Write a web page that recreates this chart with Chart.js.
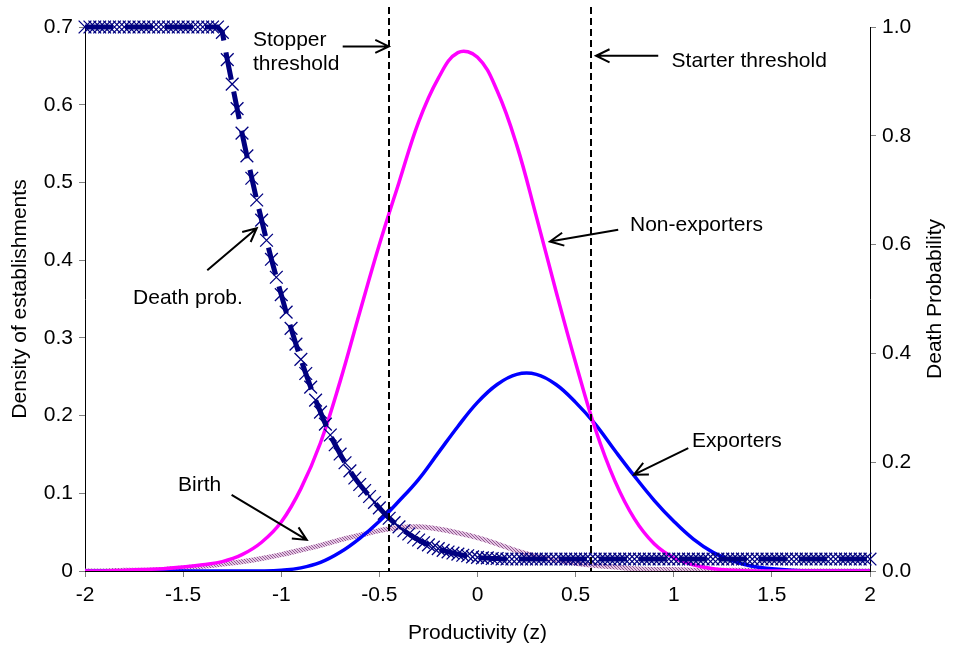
<!DOCTYPE html>
<html>
<head>
<meta charset="utf-8">
<title>Productivity</title>
<script src="https://cdn.jsdelivr.net/npm/chart.js@4.4.1/dist/chart.umd.min.js"></script>
<style>
  html, body { margin: 0; padding: 0; background: #fff; }
</style>
</head>
<body>
<canvas id="graficoDensidade" width="953" height="654"></canvas>
<script>
// Grade de produtividade (z) das densidades
const produtividade = [
    -2.0, -1.9, -1.8, -1.7, -1.6, -1.5, -1.4, -1.3, -1.2, -1.1,
    -1.0, -0.9, -0.8, -0.7, -0.6, -0.5, -0.4, -0.3, -0.2, -0.1,
    0.0, 0.1, 0.2, 0.3, 0.4, 0.5, 0.6, 0.7, 0.8, 0.9,
    1.0, 1.1, 1.2, 1.3, 1.4, 1.5, 1.6, 1.7, 1.8, 1.9, 2.0
];

const naoExportadores = [
    0.000, 0.000, 0.001, 0.002, 0.003, 0.005, 0.008, 0.012, 0.021, 0.037,
    0.063, 0.106, 0.165, 0.244, 0.333, 0.420, 0.500, 0.578, 0.634, 0.667,
    0.661, 0.618, 0.548, 0.456, 0.360, 0.268, 0.183, 0.116, 0.067, 0.035,
    0.017, 0.008, 0.003, 0.001, 0.000, 0.000, 0.000, 0.000, 0.000, 0.000, 0.000
];

const exportadores = [
    0.000, 0.000, 0.000, 0.000, 0.000, 0.000, 0.000, 0.000, 0.000, 0.000,
    0.001, 0.004, 0.011, 0.024, 0.042, 0.064, 0.090, 0.118, 0.152, 0.186,
    0.217, 0.240, 0.253, 0.253, 0.240, 0.217, 0.189, 0.155, 0.122, 0.091,
    0.064, 0.041, 0.024, 0.013, 0.006, 0.003, 0.001, 0.000, 0.000, 0.000, 0.000
];

const nascimento = [
    0.000, 0.000, 0.001, 0.001, 0.002, 0.004, 0.006, 0.009, 0.012, 0.016,
    0.021, 0.027, 0.033, 0.040, 0.046, 0.052, 0.056, 0.057, 0.054, 0.049,
    0.043, 0.035, 0.026, 0.019, 0.014, 0.010, 0.007, 0.005, 0.003, 0.002,
    0.002, 0.001, 0.001, 0.001, 0.001, 0.000, 0.000, 0.000, 0.000, 0.000, 0.000
];

// Probabilidade de morte (eixo direito), de -2 a 2 com passo 0.025
const inicioMorte = -2;
const passoMorte = 0.025;
const probMorte = [
    1.000, 1.000, 1.000, 1.000, 1.000, 1.000, 1.000, 1.000, 1.000, 1.000, 1.000, 1.000, 1.000, 1.000,
    1.000, 1.000, 1.000, 1.000, 1.000, 1.000, 1.000, 1.000, 1.000, 1.000, 1.000, 1.000, 1.000, 1.000,
    0.990, 0.940, 0.895, 0.850, 0.805, 0.763, 0.722, 0.682, 0.645, 0.608,
    0.573, 0.540, 0.508, 0.476, 0.446, 0.417, 0.389, 0.363, 0.338, 0.314,
    0.292, 0.270, 0.250, 0.232, 0.215, 0.199, 0.184, 0.171, 0.159, 0.148,
    0.137, 0.126, 0.116, 0.106, 0.097, 0.089, 0.081, 0.074, 0.068, 0.062,
    0.057, 0.052, 0.048, 0.044, 0.041, 0.038, 0.035, 0.033, 0.031, 0.029,
    0.028, 0.026, 0.025, 0.024, 0.024, 0.023, 0.023, 0.022,
    0.022, 0.022, 0.022, 0.022, 0.022, 0.022, 0.022, 0.022, 0.022, 0.022, 0.022, 0.022, 0.022, 0.022, 0.022,
    0.022, 0.022, 0.022, 0.022, 0.022, 0.022, 0.022, 0.022, 0.022, 0.022, 0.022, 0.022, 0.022, 0.022, 0.022,
    0.022, 0.022, 0.022, 0.022, 0.022, 0.022, 0.022, 0.022, 0.022, 0.022, 0.022, 0.022, 0.022, 0.022, 0.022,
    0.022, 0.022, 0.022, 0.022, 0.022, 0.022, 0.022, 0.022, 0.022, 0.022, 0.022, 0.022, 0.022, 0.022, 0.022,
    0.022, 0.022, 0.022, 0.022, 0.022, 0.022, 0.022, 0.022, 0.022, 0.022, 0.022, 0.022, 0.022, 0.022, 0.022
];

// Limiares (stopper e starter)
const limiares = [-0.45, 0.58];

// Textos com setas, em coordenadas dos dados (z, densidade)
const anotacoes = [
    { linhas: ["Stopper", "threshold"], z: -1.144, d: 0.683, seta: [-0.687, 0.675, -0.452, 0.675] },
    { linhas: ["Starter threshold"], z: 0.989, d: 0.656, seta: [0.921, 0.663, 0.604, 0.663] },
    { linhas: ["Non-exporters"], z: 0.777, d: 0.445, seta: [0.717, 0.439, 0.369, 0.424] },
    { linhas: ["Exporters"], z: 1.093, d: 0.167, seta: [1.074, 0.158, 0.797, 0.124] },
    { linhas: ["Death prob."], z: -1.755, d: 0.351, seta: [-1.377, 0.387, -1.125, 0.441] },
    { linhas: ["Birth"], z: -1.526, d: 0.111, seta: [-1.253, 0.098, -0.870, 0.040] }
];

const fonte = { family: "'Liberation Sans', Arial, sans-serif", size: 21 };

document.addEventListener("DOMContentLoaded", function () {
    renderizarGrafico();
});

function pontos(xs, ys) {
    return ys.map((y, i) => ({ x: xs[i], y: y }));
}

function padraoNascimento(ctx) {
    // textura xadrez lilás da curva de nascimentos
    const c = document.createElement("canvas");
    c.width = 3;
    c.height = 3;
    const g = c.getContext("2d");
    g.fillStyle = "#e4c4e4";
    g.fillRect(0, 0, 3, 3);
    g.fillStyle = "#935c90";
    g.fillRect(0, 0, 1, 1);
    g.fillRect(1, 1, 1, 1);
    g.fillRect(2, 2, 1, 1);
    return ctx.createPattern(c, "repeat");
}

function desenharSeta(ctx, x1, y1, x2, y2) {
    const ang = Math.atan2(y2 - y1, x2 - x1);
    const tam = 15;
    ctx.beginPath();
    ctx.moveTo(x1, y1);
    ctx.lineTo(x2, y2);
    ctx.moveTo(x2 - tam * Math.cos(ang - 0.45), y2 - tam * Math.sin(ang - 0.45));
    ctx.lineTo(x2, y2);
    ctx.lineTo(x2 - tam * Math.cos(ang + 0.45), y2 - tam * Math.sin(ang + 0.45));
    ctx.stroke();
}

const pluginExtras = {
    id: "extras",
    afterDatasetsDraw(chart) {
        const { ctx, chartArea, scales } = chart;
        const sx = scales.x, sy = scales.y;
        ctx.save();

        // Linhas tracejadas dos limiares
        ctx.strokeStyle = "#000";
        ctx.lineWidth = 2;
        ctx.setLineDash([7, 4]);
        limiares.forEach(z => {
            const px = Math.round(sx.getPixelForValue(z));
            ctx.beginPath();
            ctx.moveTo(px, chartArea.top - 20);
            ctx.lineTo(px, chartArea.bottom);
            ctx.stroke();
        });
        ctx.setLineDash([]);

        // Rótulos e setas
        ctx.font = fonte.size + "px " + fonte.family;
        ctx.fillStyle = "#000";
        ctx.textAlign = "left";
        ctx.textBaseline = "middle";
        ctx.lineWidth = 2;
        anotacoes.forEach(a => {
            const tx = sx.getPixelForValue(a.z);
            const ty = sy.getPixelForValue(a.d);
            a.linhas.forEach((t, i) => ctx.fillText(t, tx, ty + i * 24));
            const [z1, d1, z2, d2] = a.seta;
            desenharSeta(ctx,
                sx.getPixelForValue(z1), sy.getPixelForValue(d1),
                sx.getPixelForValue(z2), sy.getPixelForValue(d2));
        });

        // Título do eixo direito, lido de baixo para cima
        ctx.translate(935, (chartArea.top + chartArea.bottom) / 2);
        ctx.rotate(-Math.PI / 2);
        ctx.textAlign = "center";
        ctx.fillText("Death Probability", 0, 0);
        ctx.restore();
    }
};

function renderizarGrafico() {
    const canvas = document.getElementById("graficoDensidade");
    const ctx = canvas.getContext("2d");
    const zMorte = probMorte.map((_, i) => inicioMorte + i * passoMorte);

    const eixoY = (min, max, passo, largura, formato) => ({
        min: min,
        max: max,
        ticks: { stepSize: passo, color: "#000", font: fonte, padding: 6, callback: formato },
        grid: { drawOnChartArea: false, tickLength: 6, color: "#808080" },
        border: { color: "#000" },
        afterFit: s => { s.width = largura; }
    });

    new Chart(ctx, {
        type: "line",
        data: {
            datasets: [
                {
                    label: "Death prob.",
                    data: pontos(zMorte, probMorte),
                    yAxisID: "y2",
                    borderColor: "#000080",
                    borderWidth: 5,
                    borderDash: [28, 12],
                    tension: 0,
                    pointStyle: "crossRot",
                    pointRadius: 9,
                    pointBorderWidth: 1.3,
                    pointBorderColor: "#000080",
                    pointBackgroundColor: "#000080",
                    clip: false
                },
                {
                    label: "Non-exporters",
                    data: pontos(produtividade, naoExportadores),
                    borderColor: "#ff00ff",
                    borderWidth: 3.5,
                    pointRadius: 0,
                    tension: 0.4
                },
                {
                    label: "Exporters",
                    data: pontos(produtividade, exportadores),
                    borderColor: "#0000ff",
                    borderWidth: 3.5,
                    pointRadius: 0,
                    tension: 0.4
                },
                {
                    label: "Birth",
                    data: pontos(produtividade, nascimento),
                    borderColor: padraoNascimento(ctx),
                    borderWidth: 5,
                    pointRadius: 0,
                    tension: 0.4
                }
            ]
        },
        options: {
            responsive: false,
            animation: false,
            devicePixelRatio: 1,
            layout: { padding: { top: 27, left: 0, right: 0, bottom: 0 } },
            plugins: { legend: { display: false }, tooltip: { enabled: false } },
            scales: {
                x: {
                    type: "linear",
                    min: -2,
                    max: 2,
                    ticks: { stepSize: 0.5, color: "#000", font: fonte, padding: 6, maxRotation: 0,
                             callback: v => String(parseFloat(v.toFixed(1))) },
                    grid: { drawOnChartArea: false, tickLength: 6, color: "#808080" },
                    border: { color: "#000" },
                    title: { display: true, text: "Productivity (z)", color: "#000", font: fonte,
                             padding: { top: 0, bottom: 8 } },
                    afterFit: s => { s.height = 83; }
                },
                y: Object.assign(eixoY(0, 0.7, 0.1, 85, v => String(parseFloat(v.toFixed(1)))), {
                    position: "left",
                    title: { display: true, text: "Density of establishments", color: "#000", font: fonte,
                             padding: { top: 8, bottom: 0 } }
                }),
                y2: Object.assign(eixoY(0, 1, 0.2, 83, v => v.toFixed(1)), { position: "right" })
            }
        },
        plugins: [pluginExtras]
    });
}
</script>
</body>
</html>
